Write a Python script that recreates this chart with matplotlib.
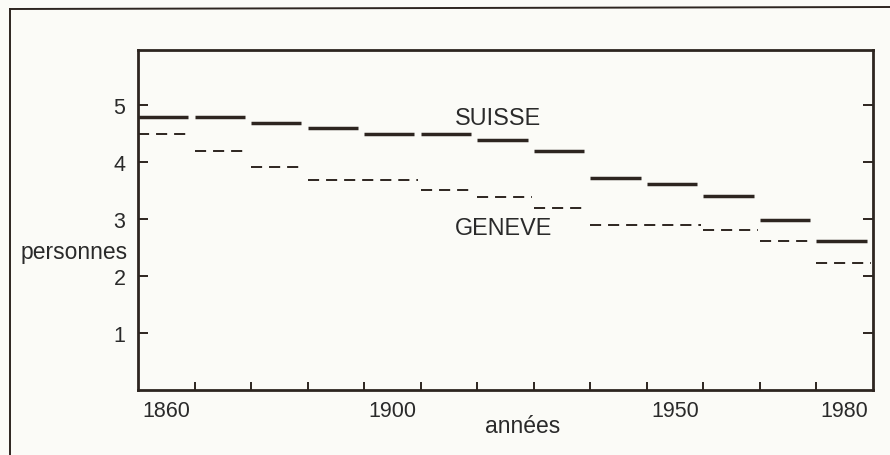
import matplotlib
matplotlib.use("Agg")
import matplotlib.pyplot as plt
import matplotlib.transforms as mtransforms
from matplotlib.lines import Line2D

# ---- data ----
census_years = [1860, 1870, 1880, 1888, 1900, 1910, 1920, 1930, 1941, 1950, 1960, 1970, 1980]
suisse = [4.79, 4.79, 4.69, 4.59, 4.50, 4.49, 4.39, 4.19, 3.72, 3.62, 3.40, 2.99, 2.62]
geneve = [4.49, 4.20, 3.91, 3.68, 3.68, 3.51, 3.39, 3.20, 2.90, 2.90, 2.81, 2.61, 2.23]
labelled_years = [1860, 1900, 1950, 1980]
y_ticks = [1, 2, 3, 4, 5]

plt.rcParams['font.family'] = ['Liberation Sans', 'DejaVu Sans']
plt.rcParams['lines.scale_dashes'] = False

BG = '#fbfbf7'
INK = '#2d2520'
TXT = '#2a2a2a'

fig = plt.figure(figsize=(8.9, 4.56), dpi=100, facecolor=BG)
W, H = 890, 456
L, R, T, B = 138, 873, 51, 391
ax = fig.add_axes([L / W, 1 - B / H, (R - L) / W, (B - T) / H])
ax.set_facecolor(BG)

n = len(census_years)
ax.set_xlim(0, n)
ax.set_ylim(0, (B - T) / 57.0)

# SUISSE: one solid bar per census period
for i, v in enumerate(suisse):
    ax.plot([i, i + 0.89], [v, v], color=INK, lw=2.5, solid_capstyle='butt')

# GENEVE: dashed, equal consecutive values merged into one run
i = 0
while i < n:
    j = i
    while j + 1 < n and geneve[j + 1] == geneve[i]:
        j += 1
    ax.plot([i, j + 0.96], [geneve[i], geneve[i]], color=INK, lw=1.4,
            dashes=(8.0, 5.0), solid_capstyle='butt', dash_capstyle='butt')
    i = j + 1

# spines
for s in ax.spines.values():
    s.set_color(INK)
    s.set_linewidth(2.0)

# x ticks: boundaries (major, unlabeled) and period centres (minor, labelled)
ax.set_xticks(range(1, n))
ax.set_xticklabels([])
ax.set_xticks([census_years.index(y) + 0.5 for y in labelled_years], minor=True)
ax.set_xticklabels([str(y) for y in labelled_years], minor=True)
ax.tick_params(axis='x', which='major', direction='in', length=6, width=1.4, color=INK)
ax.tick_params(axis='x', which='minor', length=0, pad=7, labelsize=15.5, labelcolor=TXT)

ax.set_yticks(y_ticks)
ax.set_yticklabels([str(t) for t in y_ticks])
ax.tick_params(axis='y', which='major', direction='in', length=7, width=1.4, color=INK,
               right=True, pad=9, labelsize=15.5, labelcolor=TXT)

# texts
ax.text(5.6, 4.67, 'SUISSE', fontsize=16.8, color=TXT, ha='left', va='baseline')
ax.text(5.6, 2.74, 'GENEVE', fontsize=16.8, color=TXT, ha='left', va='baseline')
blend_y = mtransforms.blended_transform_factory(ax.transAxes, ax.transData)
ax.text(-0.0136, 2.32, 'personnes', fontsize=16.5, color=TXT, ha='right', va='baseline',
        transform=blend_y)
blend_x = mtransforms.blended_transform_factory(ax.transData, ax.transAxes)
ax.text(6.8, -0.1235, 'années', fontsize=16.5, color=TXT, ha='center', va='baseline',
        transform=blend_x, clip_on=False)

# outer frame (left and top edges)
fig.add_artist(Line2D([10 / W, 10 / W], [0, 1 - 10 / H], transform=fig.transFigure,
                      color=INK, lw=1.4))
fig.add_artist(Line2D([10 / W, 1], [1 - 10 / H, 1 - 8 / H], transform=fig.transFigure,
                      color=INK, lw=1.4))

fig.savefig('out.png', dpi=100, facecolor=BG)
